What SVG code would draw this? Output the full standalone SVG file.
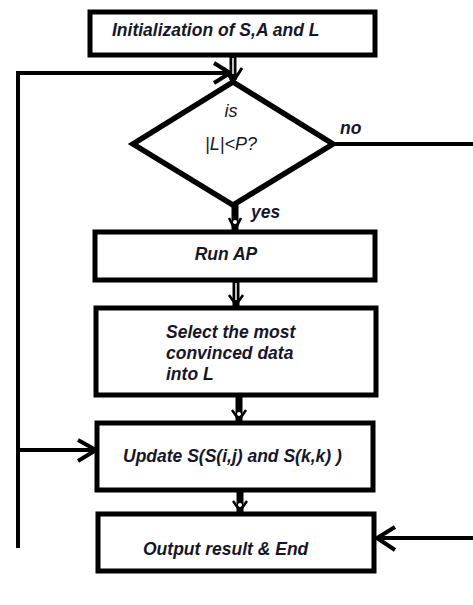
<svg xmlns="http://www.w3.org/2000/svg" width="473" height="605" viewBox="0 0 473 605">
<style>
.box{fill:#fff;stroke:#000;stroke-width:5}
.dia{fill:#fff;stroke:#000;stroke-width:5.5;stroke-linejoin:miter}
.t{font-family:"Liberation Sans",Arial,sans-serif;font-style:italic;font-weight:bold;font-size:17.5px;fill:#161628}
.n{font-weight:normal;font-size:18px}
.ln{fill:none;stroke:#000;stroke-width:4}
.dbl{stroke:#000;stroke-width:7}
.dbw{stroke:#fff;stroke-width:1.5}
</style>
<rect width="473" height="605" fill="#fff"/>
<g id="connectors">
<path class="ln" d="M18,548 V73 H229"/>
<path class="ln" d="M214,63 L230,73 L214,83"/>
<path class="ln" d="M18,450 H96"/>
<path class="ln" d="M78,440 L96,450 L78,461"/>
<path class="ln" d="M333,144 H473"/>
<path class="ln" d="M473,538 H377"/>
<path class="ln" d="M395,527 L377,538 L395,550"/>
<g>
<line class="dbl" x1="233" y1="56" x2="233" y2="80"/>
<line class="dbw" x1="233" y1="58" x2="233" y2="74"/>
<path d="M224,68 L233,82 L242,68" fill="none" stroke="#000" stroke-width="3"/>
</g>
<g>
<line class="dbl" x1="235" y1="205" x2="235" y2="231"/>
<circle cx="235" cy="222" r="2" fill="#fff"/>
<path d="M229,218 L235,230 L241,218" fill="none" stroke="#000" stroke-width="2.5"/>
</g>
<g>
<line class="dbl" x1="236" y1="280" x2="236" y2="307"/>
<line class="dbw" x1="236" y1="283" x2="236" y2="300"/>
<path d="M229,295 L236,305 L243,295" fill="none" stroke="#000" stroke-width="2.5"/>
</g>
<g>
<line class="dbl" x1="239" y1="395" x2="239" y2="421"/>
<circle cx="239" cy="414" r="2" fill="#fff"/>
<path d="M232,410 L239,420 L246,410" fill="none" stroke="#000" stroke-width="2.5"/>
</g>
<g>
<line class="dbl" x1="240" y1="490" x2="240" y2="513"/>
<circle cx="240" cy="505" r="2" fill="#fff"/>
<path d="M233,501 L240,511 L247,501" fill="none" stroke="#000" stroke-width="2.5"/>
</g>
</g>
<g id="init">
<rect class="box" x="90" y="12" width="285" height="43"/>
<text class="t" x="112" y="36">Initialization of S,A and L</text>
</g>
<g id="decision">
<polygon class="dia" points="233,82 333,144 233,205 133,144"/>
<text class="t n" x="231" y="117" text-anchor="middle">is</text>
<text class="t n" x="231" y="150" text-anchor="middle">|L|&lt;P?</text>
</g>
<g id="labels">
<text class="t" x="340" y="134">no</text>
<text class="t" x="251" y="218">yes</text>
</g>
<g id="runap">
<rect class="box" x="95" y="232" width="280" height="48"/>
<text class="t" x="226" y="260" text-anchor="middle">Run AP</text>
</g>
<g id="select">
<rect class="box" x="96" y="308" width="280" height="87"/>
<text class="t" x="166" y="338">Select the most</text>
<text class="t" x="166" y="359">convinced data</text>
<text class="t" x="166" y="380">into L</text>
</g>
<g id="update">
<rect class="box" x="97" y="423" width="276" height="67"/>
<text class="t" x="123" y="462">Update S(S(i,j) and S(k,k) )</text>
</g>
<g id="output">
<rect class="box" x="98" y="514" width="276" height="57"/>
<text class="t" x="143" y="555">Output result &amp; End</text>
</g>
</svg>
